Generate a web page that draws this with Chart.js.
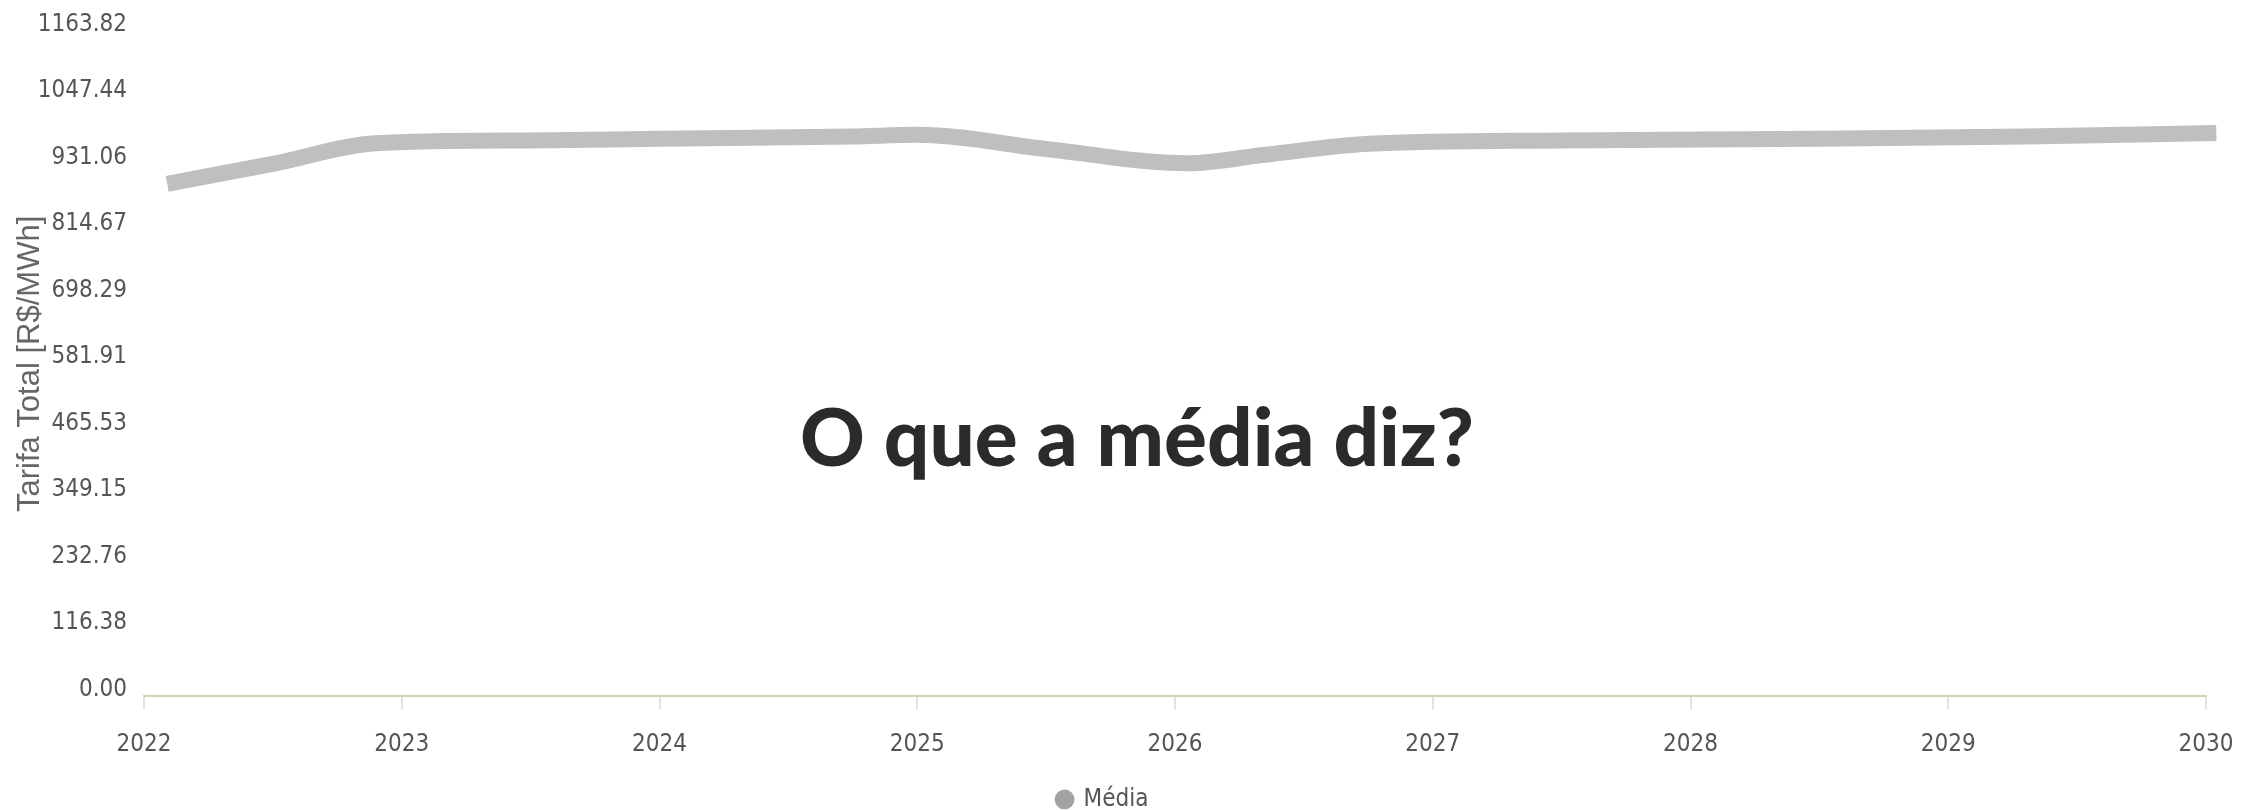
<!DOCTYPE html>
<html>
<head>
<meta charset="utf-8">
<script src="https://cdn.jsdelivr.net/npm/chart.js@4.4.1/dist/chart.umd.min.js"></script>
<style>
  html, body { margin: 0; padding: 0; background: #fff; overflow: hidden; }
  #wrap { position: relative; width: 2245px; height: 840px; }
  #overlay {
    position: absolute; left: 1137px; top: 435px;
    transform: translate(-50%, -50%);
    font-family: Lato, "Open Sans", sans-serif; font-weight: 900;
    font-size: 80px; color: #2b2b2b; white-space: nowrap;
  }
</style>
</head>
<body>
<div id="wrap">
  <canvas id="chart"></canvas>
  <div id="overlay">O que a média diz?</div>
</div>
<script>
// ── Data ──────────────────────────────────────────────────────
const yearTicks   = [2022, 2023, 2024, 2025, 2026, 2027, 2028, 2029, 2030];
const yTickLabels = ['0.00', '116.38', '232.76', '349.15', '465.53', '581.91',
                     '698.29', '814.67', '931.06', '1047.44', '1163.82'];
const pointYears  = [2022.09, 2022.5, 2022.9, 2023.5, 2024.0, 2024.75, 2025.0, 2025.5,
                     2026.05, 2026.35, 2026.75, 2027.5, 2028.5, 2029.3, 2030.04];
const tarifaMedia = [897, 932, 968, 973, 976, 980, 983, 958,
                     933, 948, 967, 973, 976, 980, 986];

const TICK_FONT = { family: '"Liberation Sans Narrow", "DejaVu Sans Condensed", Arial, sans-serif', size: 24 };
const TEXT = '#555';

const points = pointYears.map((x, i) => ({ x, y: tarifaMedia[i] }));

new Chart(document.getElementById('chart'), {
  type: 'line',
  data: {
    datasets: [{
      label: 'Média',
      data: points,
      borderColor: '#bfbfbf',
      backgroundColor: '#a3a3a3',
      borderWidth: 16,
      borderCapStyle: 'butt',
      pointRadius: 0,
      cubicInterpolationMode: 'monotone',
      clip: false,
    }],
  },
  options: {
    responsive: true, maintainAspectRatio: false, animation: false,
    layout: { padding: { left: 0, right: 39, top: 29, bottom: 18.6 } },
    plugins: {
      tooltip: { enabled: false },
      legend: {
        position: 'bottom',
        labels: {
          usePointStyle: true, boxWidth: 14, boxHeight: 14, padding: 10,
          color: TEXT, font: TICK_FONT,
          generateLabels: chart => Chart.defaults.plugins.legend.labels.generateLabels(chart)
            .map(l => ({ ...l, lineWidth: 0, fillStyle: '#a3a3a3', strokeStyle: '#a3a3a3' })),
        },
      },
    },
    scales: {
      x: {
        type: 'linear', min: 2022, max: 2030,
        afterBuildTicks: s => { s.ticks = yearTicks.map(v => ({ value: v })); },
        afterFit: s => { s.height = 81; s.paddingLeft = 0; s.paddingRight = 0; },
        ticks: { color: TEXT, font: TICK_FONT, padding: 21, maxRotation: 0,
                 callback: v => String(v) },
        grid: { drawOnChartArea: false, tickLength: 13, color: '#e3e3e3', lineWidth: 2 },
        border: { color: '#d9ceb6', width: 2 },
      },
      y: {
        min: 0, max: 1163.82,
        afterBuildTicks: s => { s.ticks = yTickLabels.map(t => ({ value: parseFloat(t) })); },
        afterFit: s => { s.width = 144; },
        ticks: { color: TEXT, font: TICK_FONT, padding: 17, labelOffset: -7,
                 callback: (v, i) => yTickLabels[i] },
        grid: { display: false, drawTicks: false },
        border: { display: false },
        title: {
          display: true, text: 'Tarifa Total [R$/MWh]', color: '#666',
          font: { family: 'Arial, "Liberation Sans", sans-serif', size: 31 },
          padding: { top: 12, bottom: 0 },
        },
      },
    },
  },
});
</script>
</body>
</html>
